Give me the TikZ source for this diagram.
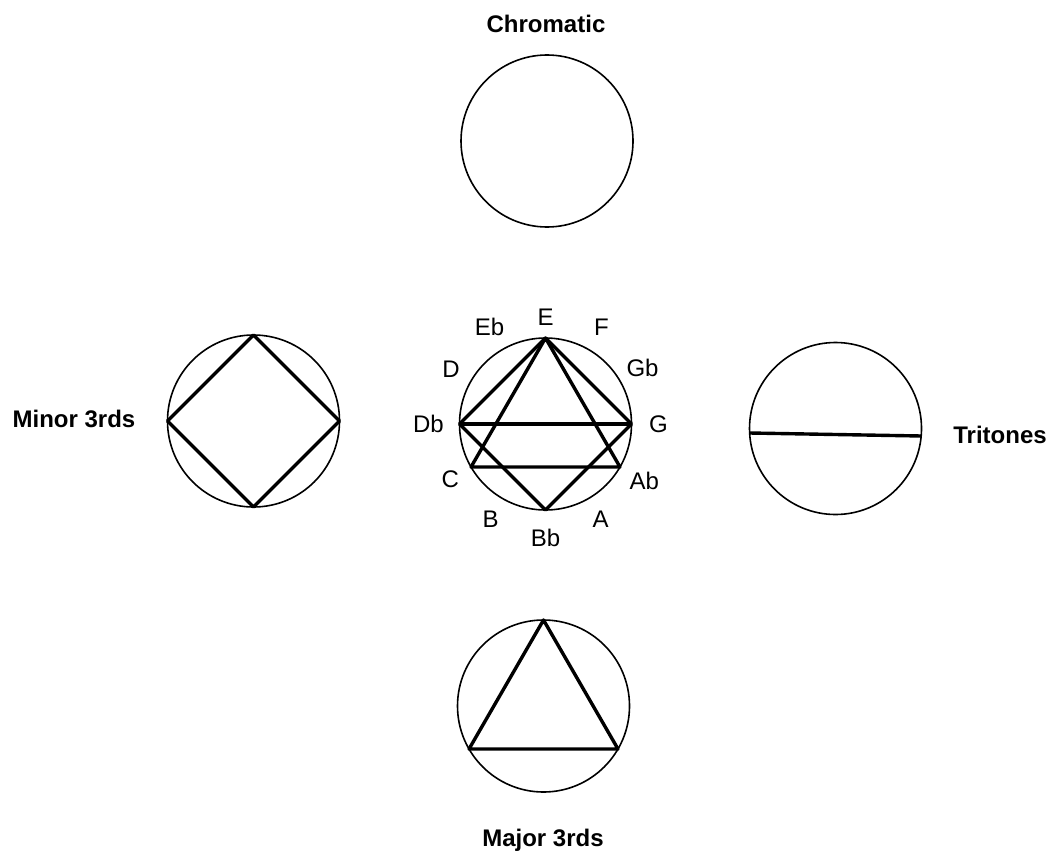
\documentclass[tikz,border=0pt]{standalone}
\usepackage{fontspec}
\setmainfont{Liberation Sans}
\tikzset{
  ring/.style={circle,draw,line width=0.8pt,minimum size=86pt,inner sep=0pt,outer sep=0pt},
  chord/.style={line width=1.7pt,line join=round},
  title/.style={font=\fontsize{12}{14}\selectfont\bfseries,anchor=base},
  note/.style={font=\fontsize{12}{14}\selectfont}
}
\begin{document}
\begin{tikzpicture}[x=0.5pt,y=0.5pt]
  \useasboundingbox (0,0) rectangle (1052,853);
  % Chromatic
  \node[ring] (chrom) at (547,712) {};
  \node[title] (tchrom) at (546,820) {Chromatic};
  % Minor 3rds
  \node[ring] (minor) at (253.5,432) {};
  \node[title] (tminor) at (74,426) {Minor 3rds};
  \draw[chord] (minor.90) -- (minor.0) -- (minor.-90) -- (minor.180) -- cycle;
  % Tritones
  \node[ring] (trit) at (835.5,424.5) {};
  \node[title] (ttrit) at (1000,410) {Tritones};
  \draw[chord] (trit.183) -- (trit.-5);
  % Major 3rds
  \node[ring] (major) at (543.5,147) {};
  \node[title] (tmajor) at (543,7) {Major 3rds};
  \draw[chord] (major.90) -- (major.-30) -- (major.210) -- cycle;
  % Centre: all the cycles together
  \node[ring] (centre) at (545.5,429) {};
  \node[note] (nE) at ([shift={(90:107)}]centre.center) {E};
  \node[note] (nF) at ([shift={(60:112)}]centre.center) {F};
  \node[note] (nGb) at ([shift={(30:112)}]centre.center) {Gb};
  \node[note] (nG) at ([shift={(0:113)}]centre.center) {G};
  \node[note] (nAb) at ([shift={(-30:114)}]centre.center) {Ab};
  \node[note] (nA) at ([shift={(-60:110)}]centre.center) {A};
  \node[note] (nBb) at ([shift={(-90:114)}]centre.center) {Bb};
  \node[note] (nB) at ([shift={(-120:110)}]centre.center) {B};
  \node[note] (nC) at ([shift={(-150:110)}]centre.center) {C};
  \node[note] (nDb) at ([shift={(180:117)}]centre.center) {Db};
  \node[note] (nD) at ([shift={(150:109)}]centre.center) {D};
  \node[note] (nEb) at ([shift={(120:112)}]centre.center) {Eb};
  \draw[chord] (centre.90) -- (centre.0) -- (centre.-90) -- (centre.180) -- cycle;
  \draw[chord] (centre.90) -- (centre.-30) -- (centre.210) -- cycle;
  \draw[chord] (centre.180) -- (centre.0);
\end{tikzpicture}
\end{document}
